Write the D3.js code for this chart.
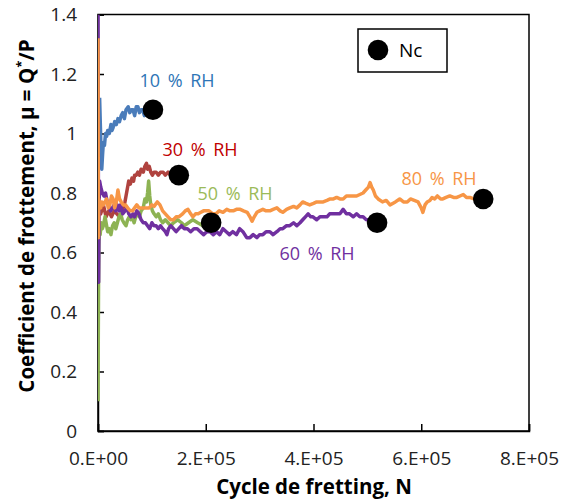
<!DOCTYPE html>
<html>
<head>
<meta charset="utf-8">
<script src="https://cdn.jsdelivr.net/npm/d3@7"></script>
<style>
  html, body { margin: 0; padding: 0; background: #fff; }
  svg { display: block; font-family: "Open Sans", "Liberation Sans", sans-serif; }
</style>
</head>
<body>
<svg id="chart" width="563" height="502"></svg>
<script>
// ---------- data (cycles N, friction coefficient mu) ----------
const rh10 = [[3000,1.12],[4500,1.02],[6000,0.92],[7000,0.88],[8500,0.93],[10000,0.97],[12000,0.96],[14000,1.0],[16000,0.99],[18000,1.01],[21000,1.0],[24000,1.03],[26000,1.01],[28000,1.02],[31000,1.04],[34000,1.03],[37000,1.05],[40000,1.04],[43000,1.06],[46000,1.07],[49000,1.05],[52000,1.08],[56000,1.09],[59000,1.07],[62000,1.08],[65000,1.08],[68000,1.06],[71000,1.09],[74000,1.09],[77000,1.07],[80000,1.08],[83000,1.08],[86000,1.06],[89000,1.07],[93000,1.08],[97000,1.08],[102000,1.08]];
const rh30 = [[0,0.75],[5000,0.73],[10000,0.76],[15000,0.72],[20000,0.74],[25000,0.72],[30000,0.74],[35000,0.73],[40000,0.72],[45000,0.74],[50000,0.77],[52000,0.79],[55000,0.82],[57000,0.84],[60000,0.83],[63000,0.85],[66000,0.84],[68000,0.86],[71000,0.86],[74000,0.87],[77000,0.86],[80000,0.88],[84000,0.87],[87000,0.89],[90000,0.90],[92000,0.88],[95000,0.89],[98000,0.87],[101000,0.86],[104000,0.87],[108000,0.87],[112000,0.86],[116000,0.87],[121000,0.87],[125000,0.86],[130000,0.87],[135000,0.86],[140000,0.87],[145000,0.86],[150000,0.86]];
const rh50 = [[0,0.10],[500,0.30],[1000,0.50],[1500,0.62],[2500,0.70],[4000,0.66],[6000,0.70],[8000,0.68],[10000,0.69],[13000,0.72],[15000,0.70],[18000,0.67],[21000,0.68],[24000,0.66],[27000,0.69],[30000,0.70],[33000,0.68],[36000,0.70],[39000,0.72],[42000,0.73],[45000,0.71],[48000,0.70],[52000,0.69],[55000,0.71],[58000,0.72],[61000,0.71],[64000,0.72],[67000,0.70],[70000,0.72],[74000,0.73],[77000,0.72],[80000,0.74],[84000,0.75],[87000,0.78],[90000,0.77],[92000,0.80],[94000,0.84],[96000,0.79],[98000,0.76],[101000,0.74],[104000,0.73],[108000,0.72],[112000,0.73],[116000,0.71],[120000,0.70],[125000,0.71],[130000,0.70],[135000,0.69],[140000,0.70],[148000,0.71],[155000,0.70],[160000,0.69],[168000,0.70],[176000,0.71],[185000,0.70],[195000,0.69],[202000,0.70],[210000,0.70]];
const rh60 = [[0,1.40],[600,0.90],[1200,0.50],[2000,0.75],[3000,0.84],[5000,0.82],[8000,0.80],[11000,0.79],[14000,0.80],[17000,0.77],[20000,0.76],[23000,0.74],[27000,0.75],[30000,0.76],[33000,0.74],[36000,0.76],[39000,0.74],[42000,0.76],[46000,0.73],[50000,0.74],[54000,0.75],[57000,0.73],[61000,0.72],[65000,0.73],[68000,0.72],[72000,0.74],[76000,0.73],[80000,0.71],[84000,0.70],[88000,0.70],[92000,0.69],[96000,0.68],[100000,0.70],[104000,0.69],[108000,0.69],[112000,0.68],[116000,0.69],[120000,0.68],[125000,0.67],[128000,0.66],[131000,0.68],[135000,0.69],[140000,0.68],[145000,0.67],[150000,0.68],[155000,0.69],[160000,0.68],[166000,0.68],[172000,0.67],[178000,0.68],[184000,0.68],[190000,0.67],[196000,0.66],[202000,0.67],[208000,0.67],[214000,0.66],[220000,0.67],[226000,0.66],[232000,0.68],[238000,0.67],[244000,0.66],[250000,0.67],[257000,0.66],[263000,0.68],[269000,0.67],[276000,0.65],[282000,0.65],[288000,0.66],[295000,0.65],[300000,0.66],[306000,0.66],[312000,0.67],[319000,0.67],[325000,0.66],[332000,0.67],[338000,0.68],[343000,0.68],[350000,0.69],[356000,0.69],[363000,0.70],[369000,0.69],[375000,0.70],[380000,0.71],[385000,0.72],[390000,0.73],[395000,0.72],[399000,0.72],[406000,0.71],[412000,0.72],[418000,0.72],[425000,0.72],[430000,0.73],[436000,0.73],[443000,0.73],[449000,0.73],[455000,0.745],[461000,0.73],[467000,0.73],[474000,0.72],[480000,0.73],[486000,0.72],[492000,0.72],[498000,0.71],[505000,0.71],[511000,0.70],[518000,0.70]];
const rh80 = [[0,1.32],[700,0.65],[1500,0.78],[3000,0.76],[5000,0.75],[7000,0.77],[10000,0.76],[13000,0.77],[16000,0.78],[19000,0.75],[22000,0.76],[25000,0.79],[28000,0.78],[31000,0.75],[34000,0.77],[37000,0.81],[40000,0.78],[43000,0.77],[47000,0.76],[51000,0.76],[55000,0.75],[60000,0.74],[64000,0.74],[68000,0.75],[72000,0.76],[76000,0.75],[80000,0.75],[85000,0.75],[90000,0.75],[95000,0.75],[100000,0.76],[104000,0.755],[110000,0.77],[115000,0.76],[120000,0.74],[125000,0.73],[130000,0.72],[135000,0.71],[140000,0.71],[145000,0.72],[150000,0.72],[157000,0.73],[162000,0.74],[167000,0.745],[172000,0.73],[176000,0.72],[181000,0.73],[186000,0.73],[191000,0.735],[196000,0.74],[201000,0.74],[206000,0.74],[213000,0.73],[219000,0.73],[225000,0.74],[232000,0.735],[239000,0.745],[245000,0.74],[251000,0.74],[257000,0.745],[264000,0.745],[270000,0.74],[277000,0.735],[282000,0.72],[286000,0.705],[290000,0.72],[295000,0.735],[300000,0.74],[306000,0.745],[312000,0.74],[319000,0.74],[325000,0.745],[332000,0.75],[338000,0.74],[343000,0.735],[350000,0.745],[356000,0.75],[363000,0.755],[369000,0.75],[375000,0.76],[380000,0.77],[386000,0.765],[393000,0.76],[400000,0.765],[406000,0.77],[412000,0.77],[418000,0.77],[425000,0.775],[431000,0.78],[437000,0.78],[443000,0.785],[449000,0.78],[455000,0.78],[461000,0.79],[467000,0.79],[474000,0.79],[480000,0.79],[486000,0.795],[492000,0.80],[497000,0.81],[502000,0.82],[505000,0.835],[508000,0.82],[511000,0.81],[515000,0.79],[520000,0.78],[528000,0.77],[535000,0.775],[542000,0.76],[547000,0.765],[552000,0.77],[560000,0.78],[567000,0.77],[574000,0.77],[580000,0.78],[587000,0.775],[594000,0.77],[600000,0.75],[603000,0.735],[607000,0.76],[611000,0.77],[616000,0.775],[620000,0.785],[625000,0.78],[630000,0.79],[636000,0.78],[640000,0.78],[646000,0.785],[653000,0.79],[660000,0.785],[666000,0.785],[672000,0.79],[678000,0.795],[684000,0.785],[690000,0.785],[698000,0.78],[706000,0.78],[715000,0.78]];

const seriesNames  = ["10 % RH", "30 % RH", "50 % RH", "60 % RH", "80 % RH"];
const ncCycles     = [102000, 150000, 210000, 518000, 715000];
const ncMu         = [1.08, 0.86, 0.70, 0.70, 0.78];
const xTickValues  = [0, 200000, 400000, 600000, 800000];
const xTickLabels  = ["0.E+00", "2.E+05", "4.E+05", "6.E+05", "8.E+05"];
const yTickValues  = [0, 0.2, 0.4, 0.6, 0.8, 1, 1.2, 1.4];
const yTickLabels  = ["0", "0.2", "0.4", "0.6", "0.8", "1", "1.2", "1.4"];

// ---------- styling ----------
const lineColors  = ["#4A7CBA", "#B0433F", "#8DB353", "#7030A0", "#F79646"];
const labelColors = ["#2E75B6", "#C00000", "#9BBB59", "#7030A0", "#F79646"];
const labelPos    = [[177, 87], [200, 156], [235, 200], [317, 260], [439, 185]];
const seriesData  = [rh10, rh30, rh50, rh60, rh80];

const svg = d3.select("#chart");
const L = 98, R = 529, T = 14.5, B = 431;
const x = d3.scaleLinear().domain([0, 800000]).range([L, R]);
const y = d3.scaleLinear().domain([0, 1.4]).range([B, T]);

svg.append("defs").append("clipPath").attr("id", "clip")
  .append("rect").attr("x", L).attr("y", T).attr("width", R - L).attr("height", B - T);

// plot frame
svg.append("rect").attr("x", L).attr("y", T).attr("width", R - L).attr("height", B - T)
  .attr("fill", "none").attr("stroke", "#000").attr("stroke-width", 1.5);

// axes
const xAxis = d3.axisBottom(x).tickValues(xTickValues)
  .tickFormat((d, i) => xTickLabels[i]).tickSize(-7).tickPadding(21);
const gx = svg.append("g").attr("transform", `translate(0,${B})`).call(xAxis);
const yAxis = d3.axisLeft(y).tickValues(yTickValues)
  .tickFormat((d, i) => yTickLabels[i]).tickSize(-6).tickPadding(21);
const gy = svg.append("g").attr("transform", `translate(${L},0)`).call(yAxis);
[gx, gy].forEach(g => {
  g.select(".domain").attr("stroke", "#000").attr("stroke-width", 1.5);
  g.selectAll(".tick line").attr("stroke", "#000").attr("stroke-width", 1.5);
  g.selectAll(".tick text").attr("fill", "#222").attr("font-size", 19)
    .attr("font-family", "'Open Sans', sans-serif");
});

// lines
const line = d3.line().x(d => x(d[0])).y(d => y(d[1]));
const gLines = svg.append("g").attr("clip-path", "url(#clip)");
seriesData.forEach((s, i) => {
  gLines.append("path").datum(s).attr("d", line)
    .attr("fill", "none").attr("stroke", lineColors[i]).attr("stroke-width", 3.5)
    .attr("stroke-linejoin", "round").attr("stroke-linecap", "butt");
});

// Nc markers
svg.append("g").selectAll("circle").data(ncCycles).join("circle")
  .attr("cx", d => x(d)).attr("cy", (d, i) => y(ncMu[i])).attr("r", 10.3).attr("fill", "#000");

// series labels
svg.append("g").selectAll("text").data(seriesNames).join("text")
  .attr("x", (d, i) => labelPos[i][0]).attr("y", (d, i) => labelPos[i][1])
  .attr("text-anchor", "middle").attr("font-size", 18).attr("word-spacing", 3)
  .attr("fill", (d, i) => labelColors[i]).text(d => d);

// legend
const lg = svg.append("g");
lg.append("rect").attr("x", 358).attr("y", 29).attr("width", 89).attr("height", 43)
  .attr("fill", "#fff").attr("stroke", "#000").attr("stroke-width", 1.5);
lg.append("circle").attr("cx", 378).attr("cy", 50).attr("r", 10.3).attr("fill", "#000");
lg.append("text").attr("x", 399).attr("y", 57).attr("font-size", 19).attr("fill", "#000").text("Nc");

// axis titles
svg.append("text").attr("x", 314).attr("y", 494).attr("text-anchor", "middle")
  .attr("font-size", 20.5).attr("font-weight", "bold").attr("fill", "#000")
  .text("Cycle de fretting, N");
const yt = svg.append("text").attr("transform", "translate(34,216) rotate(-90)")
  .attr("text-anchor", "middle").attr("font-size", 20.5).attr("font-weight", "bold").attr("fill", "#000");
yt.append("tspan").text("Coefficient de frottement,  μ = Q");
yt.append("tspan").attr("dy", -8).attr("font-size", 13).text("*");
yt.append("tspan").attr("dy", 8).text("/P");
</script>
</body>
</html>
